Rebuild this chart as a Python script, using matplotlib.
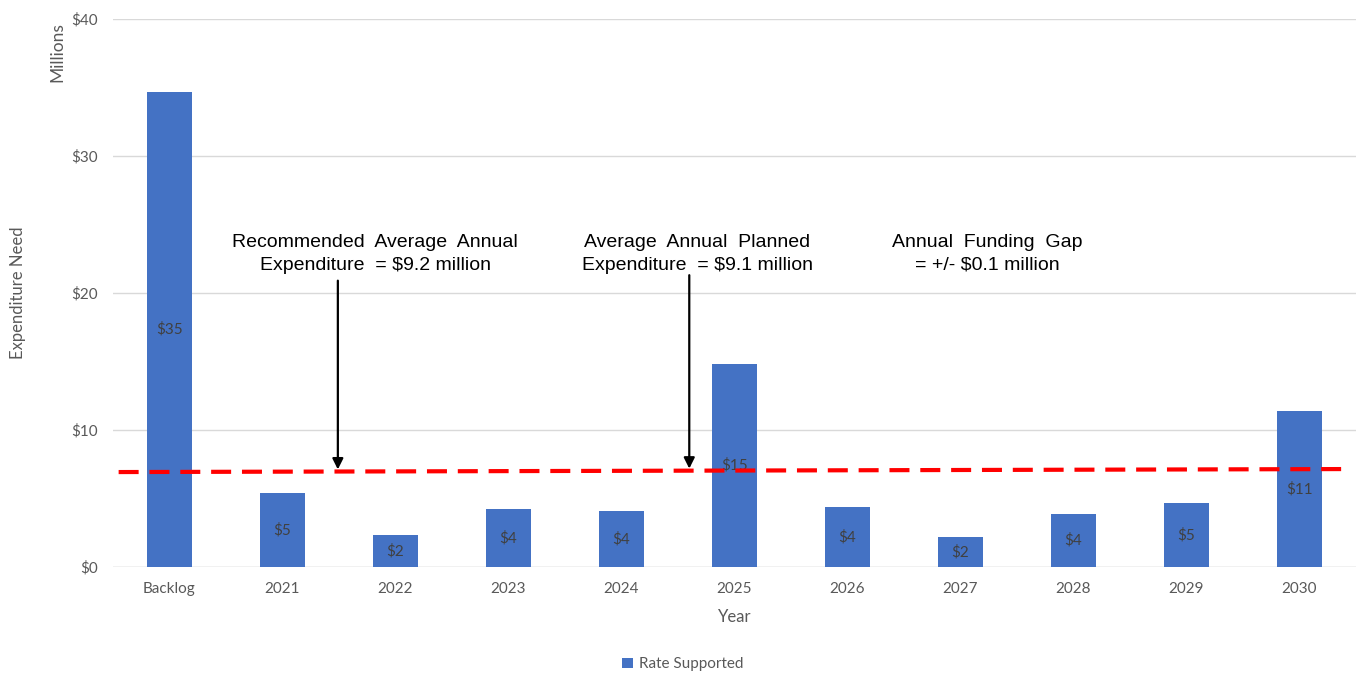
import numpy as np
import matplotlib.pyplot as plt

# expenditure need per year, $ millions
categories = ['Backlog', '2021', '2022', '2023', '2024', '2025',
              '2026', '2027', '2028', '2029', '2030']
need = [34.7, 5.4, 2.3, 4.2, 4.1, 14.8, 4.4, 2.2, 3.9, 4.7, 11.4]
bar_labels = ['$35', '$5', '$2', '$4', '$4', '$15', '$4', '$2', '$4', '$5', '$11']

# average annual expenditure trend line (start / end values)
trend_x = [-0.45, 10.45]
trend_y = [6.93, 7.15]

y_ticks = [0, 10, 20, 30, 40]
y_tick_labels = ['$0', '$10', '$20', '$30', '$40']

notes = [
    ('Recommended  Average  Annual\nExpenditure  = $9.2 million', 1.82, 1.49, 20.9),
    ('Average  Annual  Planned\nExpenditure  = $9.1 million', 4.67, 4.60, 21.3),
    ('Annual  Funding  Gap\n= +/- $0.1 million', 7.24, None, None),
]

blue = '#4472C4'
grey = '#595959'
tick_font = 'Lato'

fig = plt.figure(figsize=(13.58, 6.73), dpi=100)
ax = fig.add_axes([0.0832, 0.1575, 0.9153, 0.8143])

x = np.arange(len(categories))
ax.bar(x, need, width=0.40, color=blue, zorder=2, label='Rate Supported')

for xi, v, lab in zip(x, need, bar_labels):
    ax.text(xi, v / 2, lab, ha='center', va='center', color='#404040',
            fontsize=11, family=tick_font, zorder=3)

ax.plot(trend_x, trend_y, color='#FF0000', lw=3, dashes=(4.8, 2.6),
        solid_capstyle='butt', dash_capstyle='butt', zorder=4)


def trend_at(xv):
    return np.interp(xv, trend_x, trend_y)


for text, tx, ax_x, ay in notes:
    ax.text(tx, 22.85, text, ha='center', va='center', fontsize=14,
            family='Liberation Sans', linespacing=1.45, color='black', zorder=5)
    if ax_x is not None:
        ax.annotate('', xy=(ax_x, trend_at(ax_x) + 0.15), xytext=(ax_x, ay),
                    arrowprops=dict(arrowstyle='-|>', color='black', lw=1.6,
                                    mutation_scale=16, shrinkA=0, shrinkB=0),
                    zorder=5)

ax.set_xlim(-0.5, 10.5)
ax.set_ylim(0, 40)
ax.set_yticks(y_ticks)
ax.set_yticklabels(y_tick_labels)
ax.set_xticks(x)
ax.set_xticklabels(categories)
ax.tick_params(axis='y', length=0, pad=11, labelsize=11, labelcolor=grey)
ax.tick_params(axis='x', length=0, pad=11, labelsize=11, labelcolor=grey)
for lab in ax.get_xticklabels() + ax.get_yticklabels():
    lab.set_family(tick_font)

ax.grid(axis='y', color='#D9D9D9', lw=1, zorder=0)
for s in ax.spines.values():
    s.set_visible(False)
ax.axhline(0, color='#D9D9D9', lw=1, zorder=1)

ax.set_xlabel('Year', fontsize=12, color=grey, family=tick_font, labelpad=9)
fig.text(0.013, 0.565, 'Expenditure Need', rotation=90, ha='center', va='center',
         fontsize=12, color=grey, family=tick_font)
fig.text(0.042, 0.922, 'Millions', rotation=90, ha='center', va='center',
         fontsize=12.5, color=grey, family=tick_font)

fig.legend(loc='center', bbox_to_anchor=(0.503, 0.013), frameon=False,
           handlelength=0.7, handleheight=0.7, handletextpad=0.4,
           prop={'family': tick_font, 'size': 11}, labelcolor=grey)

fig.savefig('out.png', dpi=100)
